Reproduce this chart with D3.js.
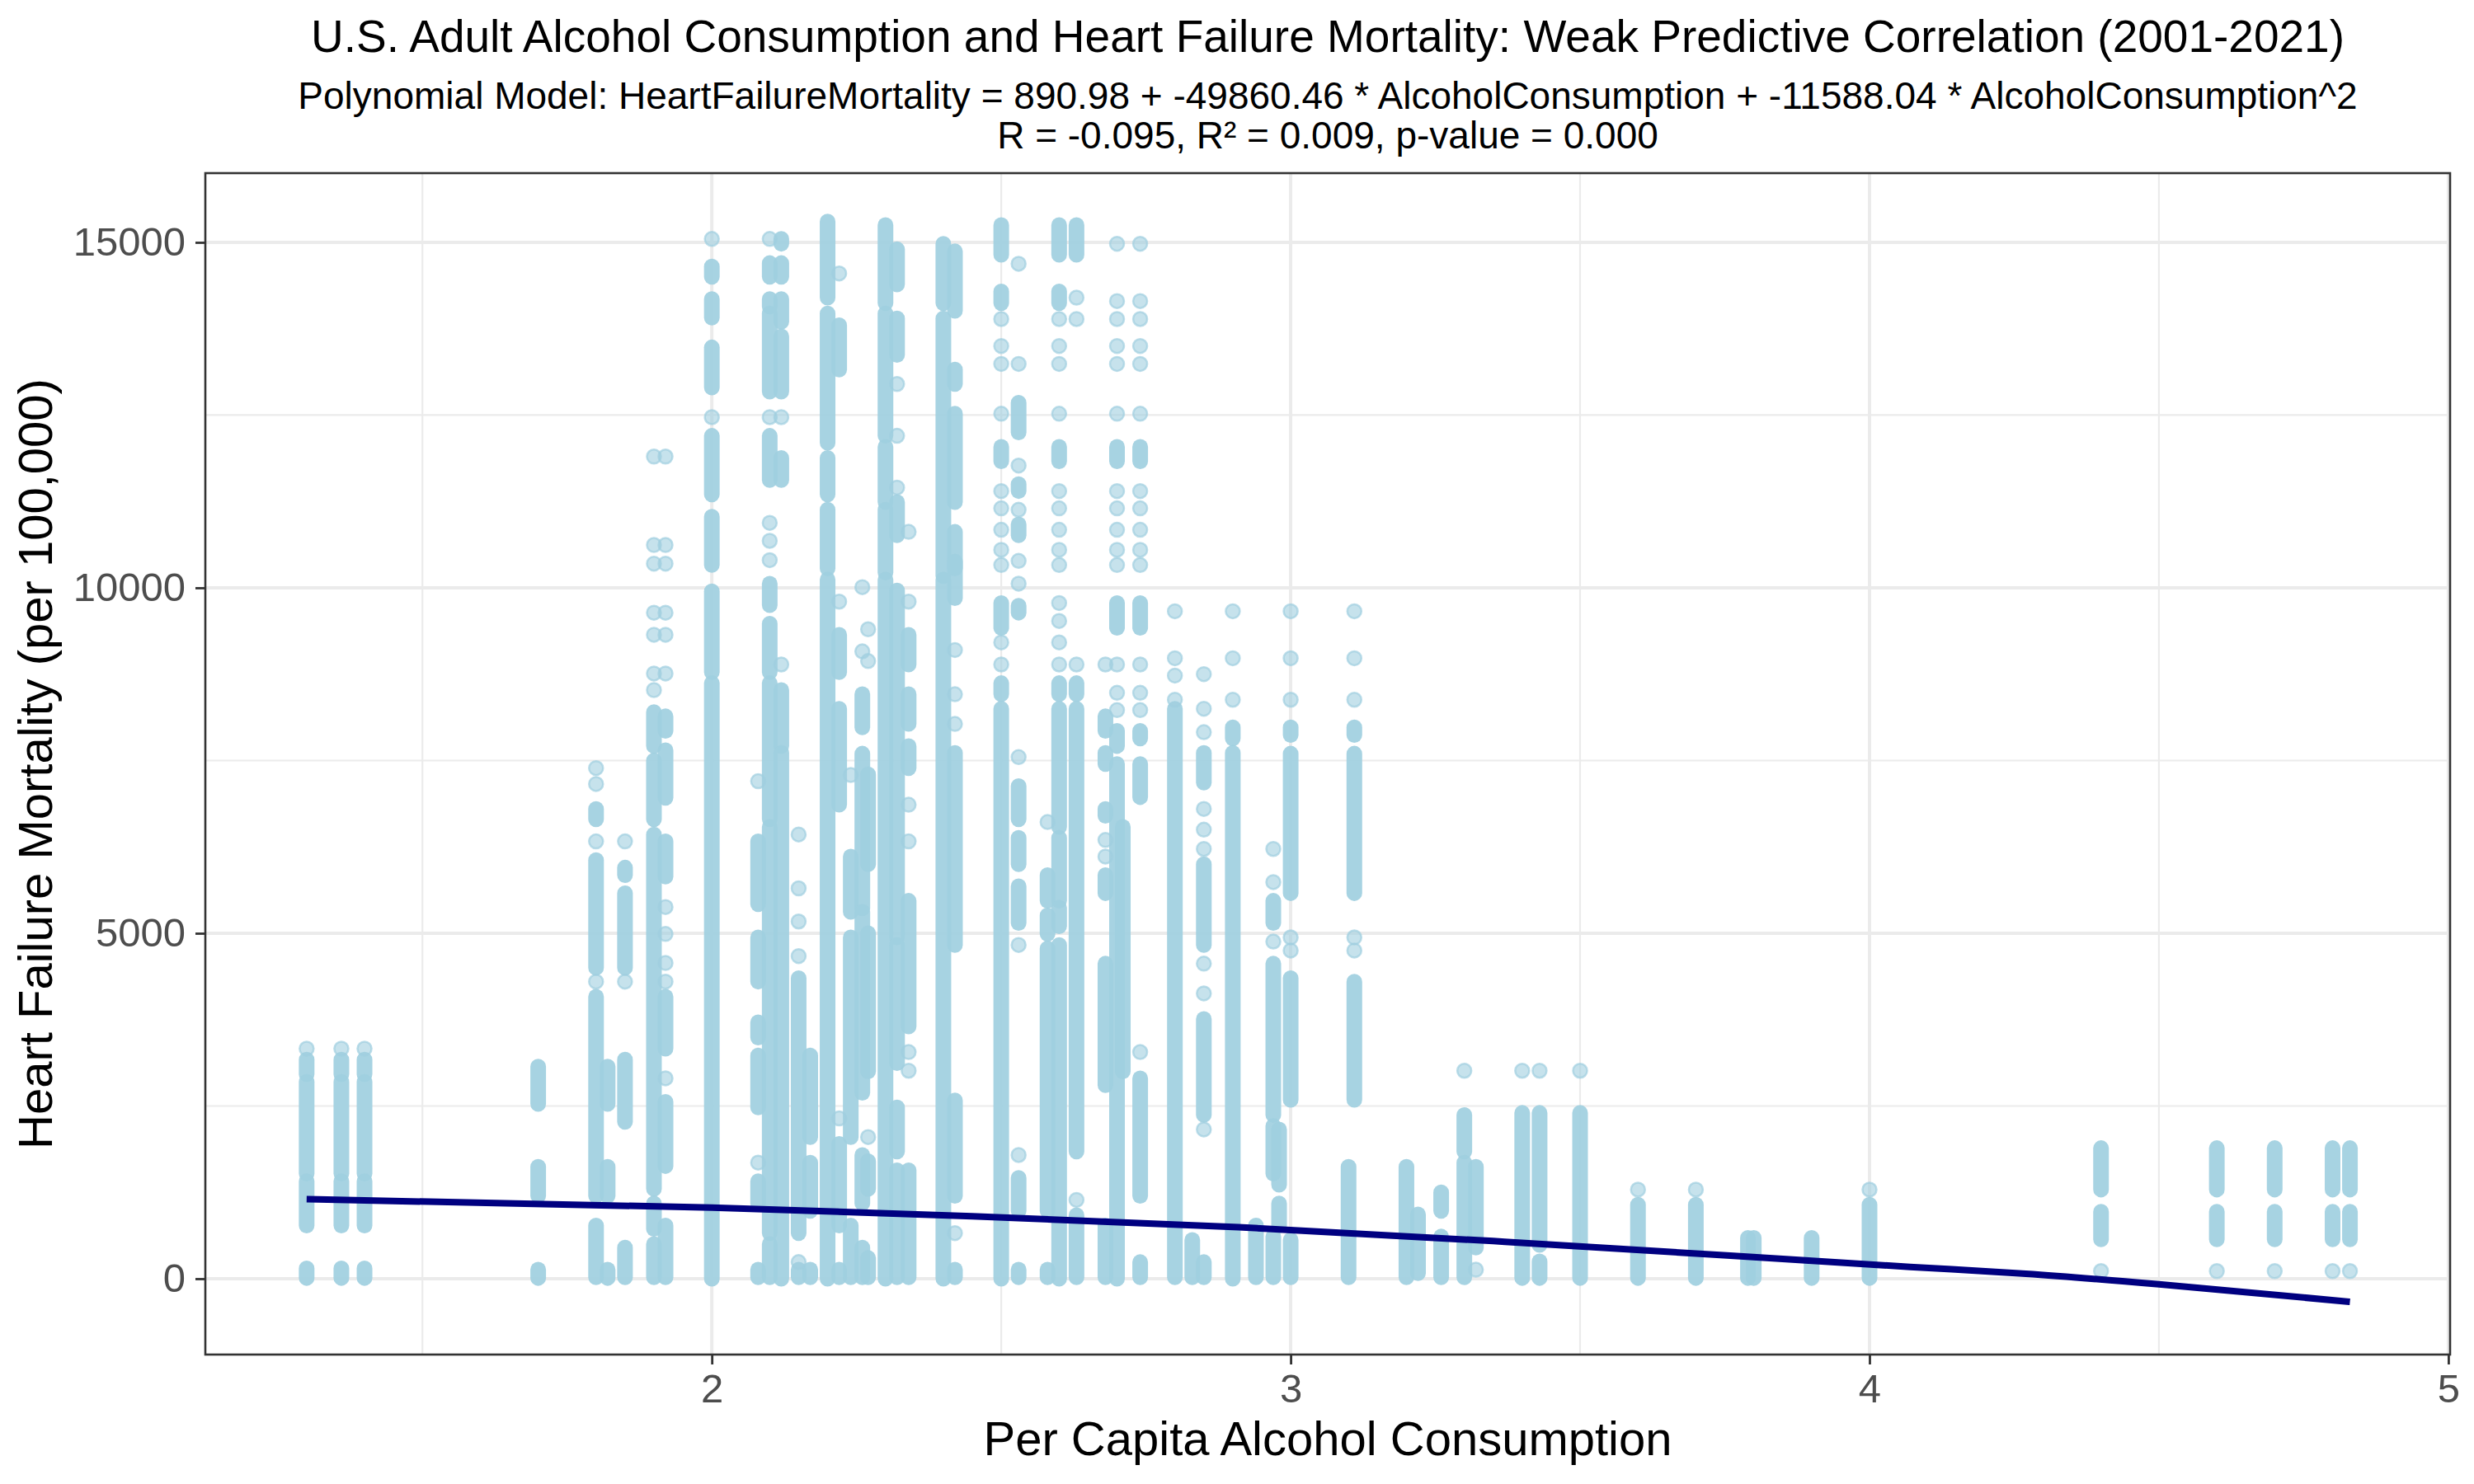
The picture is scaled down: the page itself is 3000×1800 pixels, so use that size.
<!DOCTYPE html>
<html>
<head>
<meta charset="utf-8">
<script src="https://cdn.jsdelivr.net/npm/d3@7"></script>
<style>
  html, body { margin: 0; padding: 0; background: #ffffff; }
  svg { display: block; }
</style>
</head>
<body>
<svg id="chart" width="3000" height="1800"></svg>
<script>
// ---------------- DATA ----------------
// x position (per capita alcohol consumption) of each vertical column of points
const columnX = [
  1.30, 1.36, 1.40, 1.70, 1.80, 1.82, 1.85, 1.90, 1.92, 2.00,
  2.08, 2.10, 2.12, 2.15, 2.17, 2.20, 2.22, 2.24, 2.26, 2.27,
  2.30, 2.32, 2.34, 2.40, 2.42, 2.50, 2.53, 2.58, 2.60, 2.63,
  2.68, 2.70, 2.71, 2.74, 2.80, 2.83, 2.85, 2.90, 2.94, 2.97,
  2.98, 3.00, 3.10, 3.11, 3.20, 3.22, 3.26, 3.30, 3.32, 3.40,
  3.43, 3.50, 3.60, 3.70, 3.79, 3.80, 3.90, 4.00, 4.40, 4.60,
  4.70, 4.80, 4.83
];
// heart-failure mortality values observed in each column:
// "a" = a single point, "a-b" = a dense run of overlapping points from a to b
const columnValues = [
  "3330,2960-3170,1520-2850,770-1410,10-150",
  "3330,2960-3170,1520-2850,770-1410,10-150",
  "3330,2960-3170,1520-2850,770-1410,10-150",
  "2530-3070,1200-1620,10-130",
  "7390,7160,6650-6800,6330,4500-6060,4300,1200-4080,20-770",
  "2530-3070,1200-1620,10-130",
  "6330,5840-5950,4500-5580,4300,2270-3170,20-450",
  "11900,10620,10350,9640,9320,8760,8520,7710-8200,6650-7500,1300-6430,720-1090,20-500",
  "11900,10620,10350,9640,9320,8760,7930-8140,6960-7650,5820-6330,5380,4990,4570,4300,3330-4080,2900,1630-2560,20-770",
  "15050,14500-14650,13910-14180,12900-13480,12470,11350-12200,10330-11030,8780-9950,0-8620",
  "7200,5420-6330,4300-4940,3490-3710,2480-3230,1680,1090-1410,20-130",
  "15050,14500-14700,14070-14180,12840-13970,12470,11560-12200,10940,10680,10400,9750-10060,8780-9480,6650-8620,660-6540,20-500",
  "14980-15050,14500-14700,13850-14180,12840-13640,12470,11560-11880,8890,7710-8520,0-7610",
  "6430,5650,5170,4670,660-4350,240,20-130",
  "2050-3230,980-1680,20-130",
  "14200-15300,12100-13970,11350-11880,10280-11130,0-10120",
  "14550,13160-13800,9800,8780-9320,6860-8250,2320,770-1950,20-130",
  "7290,5310-6110,2050-4940,20-770",
  "10010,9080,7980-8460,5360-7600,2690-5310,1090-1790,20-450",
  "9400,8940,6000-7300,3000-5000,2050,1300-1700,20-300",
  "14120-15250,12200-13970,11240-12040,10220-11130,0-10120",
  "14390-14900,13370-13900,12950,12200,11450,10760-11240,4940-9960,3120-4830,1840-2480,20-1570",
  "10810,9800,8890-9320,8030-8460,7390-7710,6860,6330,3650-5470,3280,3010,20-1570",
  "14120-14980,10170-13900,0-10120",
  "14010-14870,12950-13160,11240-12520,10280-10810,9850-10380,9100,8460,8030,4830-7610,1200-2580,660,20-130",
  "14820-15250,14120-14290,13890,13500,13240,12520,11830-12040,11400,11150,10840,10550,10330,9420-9780,9210,8890,8460-8620,0-8250",
  "14690,13240,12250-12680,11770,11400-11500,11130,10760-10920,10390,10060,9640-9740,7550,6650-7130,6000-6380,5150-5680,4830,1790,980-1460,20-130",
  "6610,5470-5840,4990-5260,980-4780,20-130",
  "14820-15250,14120-14290,13890,13500,13240,12520,11830-12040,11400,11150,10840,10550,10330,9780,9520,9210,8890,8460-8620,6540-8250,5470-6380,5100-5370,0-4830",
  "14820-15250,14200,13890,8890,8460-8620,1840-8250,1140,20-920",
  "8890,7930-8140,7450-7610,6700-6800,6350,6110,5580-5840,2800-4560,20-770",
  "14980,14150,13890,13500,13240,12520,11830-12040,11400,11150,10840,10550,10330,9420-9780,8890,8480,8230,7710-7930,0-7450",
  "3000-6540",
  "14980,14150,13890,13500,13240,12520,11830-12040,11400,11150,10840,10550,10330,9420-9780,8890,8480,8230,7820-7930,6970-7450,3280,1200-2900,20-240",
  "9660,8980,8730,8380,20-8250",
  "20-560",
  "8750,8250,7910,7180-7610,6800,6500,6220,4830-6000,4560,4130,2370-3760,2160,20-240",
  "9660,8980,8380,7820-7980,0-7610",
  "20-770",
  "6220,5740,5150-5470,4880,2370-4560,1520-2210,20-610",
  "1360-2160,770-1090",
  "9660,8980,8380,7870-7980,5580-7600,4940,4750,2590-4350,20-560",
  "20-1620",
  "9660,8980,8380,7870-7980,5580-7600,4940,4750,2590-4300",
  "20-1620",
  "80-930",
  "980-1250,20-610",
  "3010,1840-2370,20-1680",
  "450-1620,130",
  "3010,10-2400",
  "3010,490-2400,10-250",
  "3010,10-2400",
  "1290,10-1070",
  "1290,10-1070",
  "10-590",
  "10-590",
  "10-590",
  "1290,10-1070",
  "1290-1890,570-970,110",
  "1290-1890,570-970,110",
  "1290-1890,570-970,110",
  "1290-1890,570-970,110",
  "1290-1890,570-970,110"
];
// fitted polynomial curve
const fitX = [1.30, 2.00, 2.45, 2.91, 3.37, 4.07, 4.27, 4.50, 4.83];
const fitY = [1150, 1030, 905, 745, 535, 171, 72, -80, -334];

const xMajorTicks = [2, 3, 4, 5];
const xMinorTicks = [1.5, 2.5, 3.5, 4.5];
const yMajorTicks = [0, 5000, 10000, 15000];
const yMinorTicks = [2500, 7500, 12500];

const titleText = "U.S. Adult Alcohol Consumption and Heart Failure Mortality: Weak Predictive Correlation (2001-2021)";
const subtitleLines = [
  "Polynomial Model: HeartFailureMortality = 890.98 + -49860.46 * AlcoholConsumption + -11588.04 * AlcoholConsumption^2",
  "R = -0.095, R\u00B2 = 0.009, p-value = 0.000"
];
const xTitleText = "Per Capita Alcohol Consumption";
const yTitleText = "Heart Failure Mortality (per 100,000)";

// ---------------- LAYOUT ----------------
const FONT = "'Liberation Sans', Arial, Helvetica, sans-serif";
const panel = { left: 249, right: 2971, top: 210, bottom: 1643 };
const pointColor = "#a0cfe0";
const R = 9.5;

const svg = d3.select("#chart");
svg.append("rect").attr("width", 3000).attr("height", 1800).attr("fill", "#ffffff");

const x = d3.scaleLinear().domain([1.125, 5.003]).range([panel.left, panel.right]);
const y = d3.scaleLinear().domain([-1098, 16002]).range([panel.bottom, panel.top]);

svg.append("clipPath").attr("id", "panelClip")
  .append("rect")
  .attr("x", panel.left).attr("y", panel.top)
  .attr("width", panel.right - panel.left).attr("height", panel.bottom - panel.top);

const grid = svg.append("g");
// minor grid
grid.selectAll(".xminor").data(xMinorTicks).join("line")
  .attr("x1", d => x(d)).attr("x2", d => x(d))
  .attr("y1", panel.top).attr("y2", panel.bottom)
  .attr("stroke", "#ebebeb").attr("stroke-width", 2.2);
grid.selectAll(".yminor").data(yMinorTicks).join("line")
  .attr("x1", panel.left).attr("x2", panel.right)
  .attr("y1", d => y(d)).attr("y2", d => y(d))
  .attr("stroke", "#ebebeb").attr("stroke-width", 2.2);
// major grid
grid.selectAll(".xmajor").data(xMajorTicks).join("line")
  .attr("x1", d => x(d)).attr("x2", d => x(d))
  .attr("y1", panel.top).attr("y2", panel.bottom)
  .attr("stroke", "#ebebeb").attr("stroke-width", 4);
grid.selectAll(".ymajor").data(yMajorTicks).join("line")
  .attr("x1", panel.left).attr("x2", panel.right)
  .attr("y1", d => y(d)).attr("y2", d => y(d))
  .attr("stroke", "#ebebeb").attr("stroke-width", 4);

// ---------------- POINTS ----------------
const marks = [];
columnX.forEach((cx, i) => {
  columnValues[i].split(",").forEach(tok => {
    const parts = tok.split("-").map(Number);
    const lo = parts[0], hi = parts.length > 1 ? parts[1] : parts[0];
    marks.push({ x: cx, lo: Math.min(lo, hi), hi: Math.max(lo, hi), single: parts.length === 1 });
  });
});

const pts = svg.append("g").attr("clip-path", "url(#panelClip)");
pts.selectAll("rect.run").data(marks.filter(d => !d.single)).join("rect")
  .attr("class", "run")
  .attr("x", d => x(d.x) - R)
  .attr("y", d => y(d.hi) - R)
  .attr("width", 2 * R)
  .attr("height", d => y(d.lo) - y(d.hi) + 2 * R)
  .attr("rx", R).attr("ry", R)
  .attr("fill", pointColor).attr("fill-opacity", 0.92);
pts.selectAll("circle.single").data(marks.filter(d => d.single)).join("circle")
  .attr("class", "single")
  .attr("cx", d => x(d.x)).attr("cy", d => y(d.hi)).attr("r", R - 1)
  .attr("fill", pointColor).attr("fill-opacity", 0.6)
  .attr("stroke", pointColor).attr("stroke-opacity", 0.7).attr("stroke-width", 2.5);

// ---------------- FITTED LINE ----------------
const fitData = fitX.map((d, i) => [d, fitY[i]]);
const fitLine = d3.line()
  .x(d => x(d[0]))
  .y(d => y(d[1]))
  .curve(d3.curveMonotoneX);
svg.append("path")
  .datum(fitData)
  .attr("clip-path", "url(#panelClip)")
  .attr("fill", "none")
  .attr("stroke", "#000080")
  .attr("stroke-width", 8)
  .attr("d", fitLine);

// ---------------- PANEL BORDER ----------------
svg.append("rect")
  .attr("x", panel.left).attr("y", panel.top)
  .attr("width", panel.right - panel.left).attr("height", panel.bottom - panel.top)
  .attr("fill", "none").attr("stroke", "#333333").attr("stroke-width", 2.6);

// ---------------- AXES ----------------
const xAxis = d3.axisBottom(x).tickValues(xMajorTicks).tickSize(12).tickPadding(11).tickFormat(d3.format("d"));
const gx = svg.append("g").attr("transform", `translate(0,${panel.bottom})`).call(xAxis);
gx.select(".domain").remove();
gx.selectAll(".tick line").attr("stroke", "#333333").attr("stroke-width", 2.8);
gx.selectAll(".tick text").attr("fill", "#4d4d4d").style("font-family", FONT).style("font-size", "49px")
  .attr("dy", "0.71em");

const yAxis = d3.axisLeft(y).tickValues(yMajorTicks).tickSize(12).tickPadding(12).tickFormat(d3.format("d"));
const gy = svg.append("g").attr("transform", `translate(${panel.left},0)`).call(yAxis);
gy.select(".domain").remove();
gy.selectAll(".tick line").attr("stroke", "#333333").attr("stroke-width", 2.8);
gy.selectAll(".tick text").attr("fill", "#4d4d4d").style("font-family", FONT).style("font-size", "49px");

// ---------------- TITLES ----------------
const cxPanel = (panel.left + panel.right) / 2;
svg.append("text").text(titleText)
  .attr("x", cxPanel).attr("y", 63).attr("text-anchor", "middle")
  .style("font-family", FONT).style("font-size", "55px").attr("fill", "#000000");
svg.selectAll("text.subtitle").data(subtitleLines).join("text")
  .attr("class", "subtitle").text(d => d)
  .attr("x", cxPanel).attr("y", (d, i) => 132 + i * 48).attr("text-anchor", "middle")
  .style("font-family", FONT).style("font-size", "46px").attr("fill", "#000000");

svg.append("text").text(xTitleText)
  .attr("x", cxPanel).attr("y", 1765).attr("text-anchor", "middle")
  .style("font-family", FONT).style("font-size", "58px").attr("fill", "#000000");
svg.append("text").text(yTitleText)
  .attr("transform", `translate(63,${(panel.top + panel.bottom) / 2}) rotate(-90)`)
  .attr("text-anchor", "middle")
  .style("font-family", FONT).style("font-size", "58px").attr("fill", "#000000");
</script>
</body>
</html>
